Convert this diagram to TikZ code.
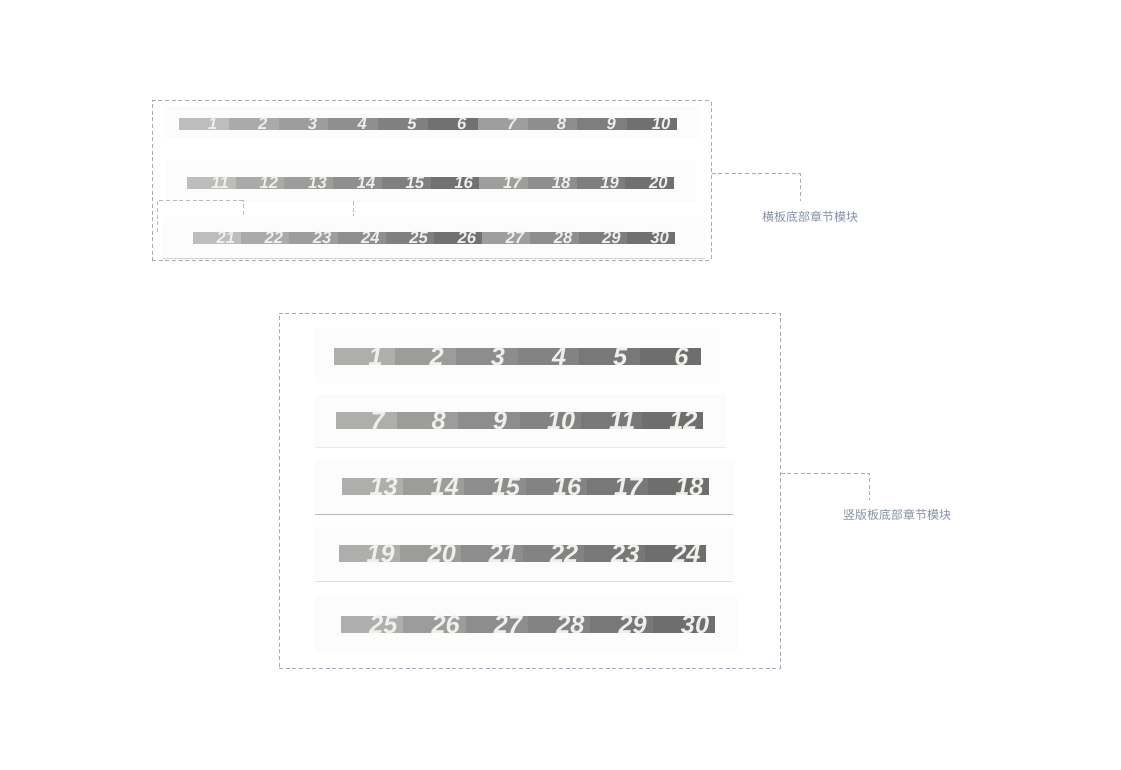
\documentclass[tikz,border=0pt]{standalone}
\usepackage{fontspec}
\newfontfamily\numfont{Liberation Sans}
\newfontfamily\cjk{Noto Sans CJK SC}
\usetikzlibrary{fit}
\definecolor{dashc}{HTML}{A3AAB8}
\definecolor{labc}{HTML}{8590A4}
\definecolor{numc}{HTML}{F0EFEB}
\definecolor{panelc}{HTML}{FCFCFC}
% top palette
\definecolor{ta1}{HTML}{BEBDBB}\definecolor{ta2}{HTML}{ABAAA8}\definecolor{ta3}{HTML}{9D9D9C}
\definecolor{ta4}{HTML}{8F8F8F}\definecolor{ta5}{HTML}{808080}\definecolor{ta6}{HTML}{717171}
\definecolor{ta7}{HTML}{9E9E9D}\definecolor{ta8}{HTML}{8E8E8E}\definecolor{ta9}{HTML}{7E7E7E}
\definecolor{ta10}{HTML}{707070}
% bottom palette
\definecolor{ba1}{HTML}{AEAEAC}\definecolor{ba2}{HTML}{9C9C9A}\definecolor{ba3}{HTML}{8D8D8D}
\definecolor{ba4}{HTML}{838383}\definecolor{ba5}{HTML}{787878}\definecolor{ba6}{HTML}{6E6E6E}
\tikzset{
  dbox/.style={draw=dashc, line width=0.75pt, dash pattern=on 3pt off 2pt, inner sep=0pt},
  dline/.style={draw=dashc, line width=0.75pt, dash pattern=on 3pt off 2pt},
  lab/.style={font=\cjk\fontsize{9}{11}\selectfont, text=labc, inner sep=0pt},
  tnum/.style={font=\numfont\bfseries\itshape\fontsize{12.5}{13}\selectfont, text=numc, inner sep=0pt},
  bnum/.style={font=\numfont\bfseries\itshape\fontsize{19}{20}\selectfont, text=numc, inner sep=0pt},
  panel/.style={fill=panelc, draw=none},
}
% #1 prefix, #2 x0, #3 x1, #4 ytop, #5 ybot, #6 first number, #7 count, #8 palette, #9 num style
\newcommand\segbar[9]{%
  \pgfmathsetmacro\segw{(#3-#2)/#7}%
  \foreach \i in {1,...,#7}{%
    \pgfmathtruncatemacro\num{#6+\i-1}%
    \pgfmathsetmacro\xa{#2+(\i-1)*\segw}%
    \pgfmathsetmacro\xb{#2+\i*\segw}%
    \fill[#8\i] (\xa,#4) rectangle (\xb,#5);
    \node[#9] (#1\num) at ({\xa+0.68*\segw},{(#4+#5)/2}) {\num};
  }}
\begin{document}
\begin{tikzpicture}[x=0.75pt,y=-0.75pt]
\useasboundingbox (0,0) rectangle (1121,770);
\fill[white] (0,0) rectangle (1121,770);

% ---------- top (horizontal) module ----------
\fill[panel] (164,106) rectangle (700,138);
\fill[panel] (167,160) rectangle (696,202);
\fill[panel] (163,217) rectangle (705,258);
\draw[draw=black!18, line width=0.75pt] (163,258) -- (705,258);
\segbar{t}{179}{677}{118}{130}{1}{10}{ta}{tnum}
\segbar{t}{187}{674}{177}{189}{11}{10}{ta}{tnum}
\segbar{t}{193}{675}{232}{244}{21}{10}{ta}{tnum}

\draw[dline, draw=dashc!80] (157,232) -- (157,201) -- (243,201) -- (243,216);
\draw[dline, draw=dashc!80] (353,201) -- (353,216);

\node[dbox, fit={(152,101) (711,260)}] (topbox) {};
\node[lab] (toplab) at (810,217) {横板底部章节模块};
\coordinate (tk) at (800,174);
\draw[dline] (topbox.east |- tk) -- (tk) -- ++(0,27);

% ---------- bottom (vertical) module ----------
\fill[panel] (315,328) rectangle (720,383);
\fill[panel] (315,394) rectangle (726,447);
\fill[panel] (315,460) rectangle (735,514);
\fill[panel] (315,527) rectangle (733,581);
\fill[panel] (315,596) rectangle (738,652);
\draw[draw=black!8, line width=0.75pt] (315,447) -- (726,447);
\draw[draw=black!28, line width=0.75pt] (315,514) -- (733,514);
\draw[draw=black!12, line width=0.75pt] (315,581) -- (733,581);
\segbar{b}{334}{701}{348}{365}{1}{6}{ba}{bnum}
\segbar{b}{336}{703}{412}{429}{7}{6}{ba}{bnum}
\segbar{b}{342}{709}{478}{495}{13}{6}{ba}{bnum}
\segbar{b}{339}{706}{545}{562}{19}{6}{ba}{bnum}
\segbar{b}{341}{715}{616}{633}{25}{6}{ba}{bnum}

\node[dbox, fit={(279,313) (780,668)}] (botbox) {};
\node[lab] (botlab) at (897,515) {竖版板底部章节模块};
\coordinate (bk) at (869,473);
\draw[dline] (botbox.east |- bk) -- (bk) -- ++(0,27);
\end{tikzpicture}
\end{document}
